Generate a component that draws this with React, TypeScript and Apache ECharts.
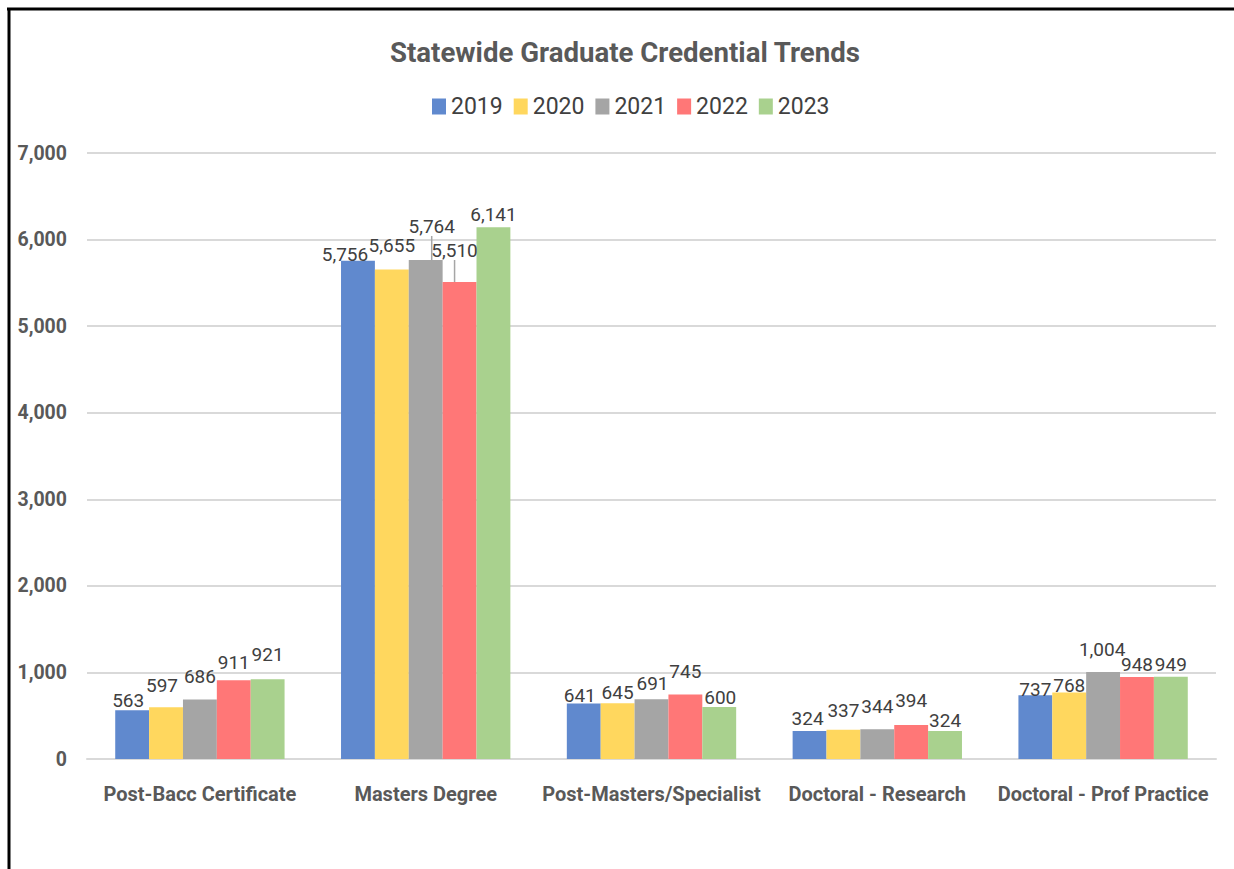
import React, { useEffect, useRef } from "react";
import * as echarts from "echarts";

const categories = [
  "Post-Bacc Certificate",
  "Masters Degree",
  "Post-Masters/Specialist",
  "Doctoral - Research",
  "Doctoral - Prof Practice",
];
const years = ["2019", "2020", "2021", "2022", "2023"];
const values2019 = [563, 5756, 641, 324, 737];
const values2020 = [597, 5655, 645, 337, 768];
const values2021 = [686, 5764, 691, 344, 1004];
const values2022 = [911, 5510, 745, 394, 948];
const values2023 = [921, 6141, 600, 324, 949];
const yTicks = [0, 1000, 2000, 3000, 4000, 5000, 6000, 7000];

const seriesValues = [values2019, values2020, values2021, values2022, values2023];
const colors = ["#6089CE", "#FFD75E", "#A5A5A5", "#FF7777", "#A9D18E"];

// label nudges (Excel-like placement): [series][category] -> [dx, dy]
const labelNudge: [number, number][][] = [
  [[-4, 3], [-13, 6], [-4, 4], [-2, 0], [0, 7]],
  [[-4, -9], [0, -11], [0, 2], [0, -7], [0, 5]],
  [[0, -11], [6, -21], [1, -3], [0, -10], [-1, -10]],
  [[0, -5], [-5, -19], [0, -11], [0, -12], [0, 0]],
  [[0, -12], [0, 0], [1, 3], [0, 2], [0, 0]],
];
const leaderLines = new Set(["2-1", "3-1"]);

const FONT = "Roboto, 'Open Sans', sans-serif";

export default function App() {
  const ref = useRef<HTMLDivElement>(null);
  useEffect(() => {
    document.body.style.margin = "0";
    const chart = echarts.init(ref.current!, null, { renderer: "svg" });
    chart.setOption({
      animation: false,
      backgroundColor: "#ffffff",
      textStyle: { fontFamily: FONT },
      title: {
        text: "Statewide Graduate Credential Trends",
        left: 385,
        top: 33,
        textStyle: { fontSize: 27.6, fontWeight: "bold", color: "#595959", fontFamily: FONT },
      },
      legend: {
        data: years,
        top: 90,
        left: 427,
        itemWidth: 14,
        itemHeight: 16,
        itemGap: 11,
        icon: "rect",
        textStyle: { fontSize: 23, color: "#404040", fontFamily: FONT },
      },
      grid: { left: 87, right: 18, top: 153, bottom: 110, containLabel: false },
      xAxis: {
        type: "category",
        data: categories,
        axisTick: { show: false },
        axisLine: { lineStyle: { color: "#D9D9D9", width: 2 } },
        axisLabel: { interval: 0, fontSize: 20, fontWeight: "bold", color: "#595959", margin: 25 },
      },
      yAxis: {
        type: "value",
        min: yTicks[0],
        max: yTicks[yTicks.length - 1],
        interval: 1000,
        axisLine: { show: false },
        axisTick: { show: false },
        splitLine: { lineStyle: { color: "#D9D9D9", width: 2 } },
        axisLabel: {
          fontSize: 19.5,
          fontWeight: "bold",
          color: "#595959",
          margin: 20,
          formatter: (v: number) => v.toLocaleString("en-US"),
        },
      },
      graphic: [
        { type: "line", shape: { x1: 7, y1: 9, x2: 1234, y2: 9 }, style: { stroke: "#000", lineWidth: 3 } },
        { type: "line", shape: { x1: 9, y1: 9, x2: 9, y2: 869 }, style: { stroke: "#000", lineWidth: 3 } },
      ],
      series: years.map((y, si) => ({
        name: y,
        type: "bar",
        barGap: "0%",
        barCategoryGap: "25%",
        itemStyle: { color: colors[si] },
        label: {
          show: true,
          position: "top",
          distance: 3,
          fontSize: 19,
          color: "#404040",
          fontFamily: FONT,
          formatter: (p: any) => Number(p.value).toLocaleString("en-US"),
        },
        labelLine: { show: false, lineStyle: { color: "#A6A6A6", width: 1.5 } },
        labelLayout: (p: any) => {
          const n = labelNudge[si][p.dataIndex];
          return { dx: n[0], dy: n[1] };
        },
        data: seriesValues[si].map((v, ci) =>
          leaderLines.has(`${si}-${ci}`)
            ? { value: v, labelLine: { show: true, lineStyle: { color: "#A6A6A6", width: 1.5 } } }
            : v
        ),
      })),
    });
    return () => chart.dispose();
  }, []);
  return <div ref={ref} style={{ position: "fixed", left: 0, top: 0, width: 1234, height: 869 }} />;
}
